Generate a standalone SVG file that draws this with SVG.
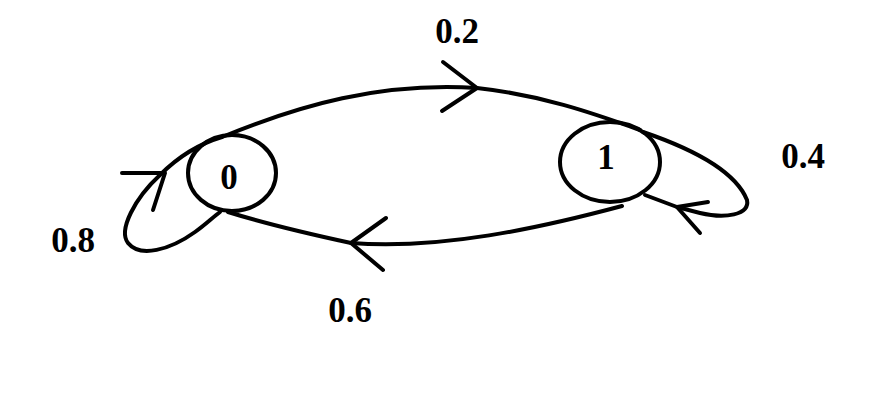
<svg xmlns="http://www.w3.org/2000/svg" width="894" height="414" viewBox="0 0 894 414">
<style>
.s{fill:none;stroke:#000;stroke-width:4;stroke-linecap:round;stroke-linejoin:round}
.t{font-family:"Liberation Serif","Times New Roman",serif;font-weight:bold;font-size:35px;fill:#000;text-anchor:middle}
</style>
<rect width="894" height="414" fill="#fff"/>
<g id="connectors">
<g id="edge-0-1">
<path class="s" d="M222,137 C300,105 380,82 477,88 C540,95 590,112 640,130"/>
<path class="s" d="M443,62 L477,88 L442,111"/>
</g>
<g id="edge-1-0">
<path class="s" d="M622,206 C540,228 440,250 351,243 C300,232 260,222 228,212"/>
<path class="s" d="M386,218 L351,243 L383,270"/>
</g>
<g id="loop-1">
<path class="s" d="M643,132 C690,148 735,170 747,200 C750,215 725,219 700,213 L677,207 L645,195"/>
<path class="s" d="M708,202 L677,207 L700,233"/>
</g>
<g id="loop-0">
<path class="s" d="M222,137 C195,145 175,160 160,175 C135,198 118,230 128,243 C140,258 170,250 195,232 C205,225 212,218 220,212"/>
<path class="s" d="M122,173 L165,173 L153,210"/>
</g>
</g>
<g id="node-0">
<ellipse class="s" cx="232" cy="173" rx="44" ry="38"/>
<text class="t" x="229" y="189">0</text>
</g>
<g id="node-1">
<ellipse class="s" cx="610" cy="162" rx="50" ry="40"/>
<text class="t" x="606" y="169">1</text>
</g>
<g id="labels">
<text class="t" x="457" y="43">0.2</text>
<text class="t" x="803" y="168">0.4</text>
<text class="t" x="73" y="252">0.8</text>
<text class="t" x="350" y="322">0.6</text>
</g>
</svg>
